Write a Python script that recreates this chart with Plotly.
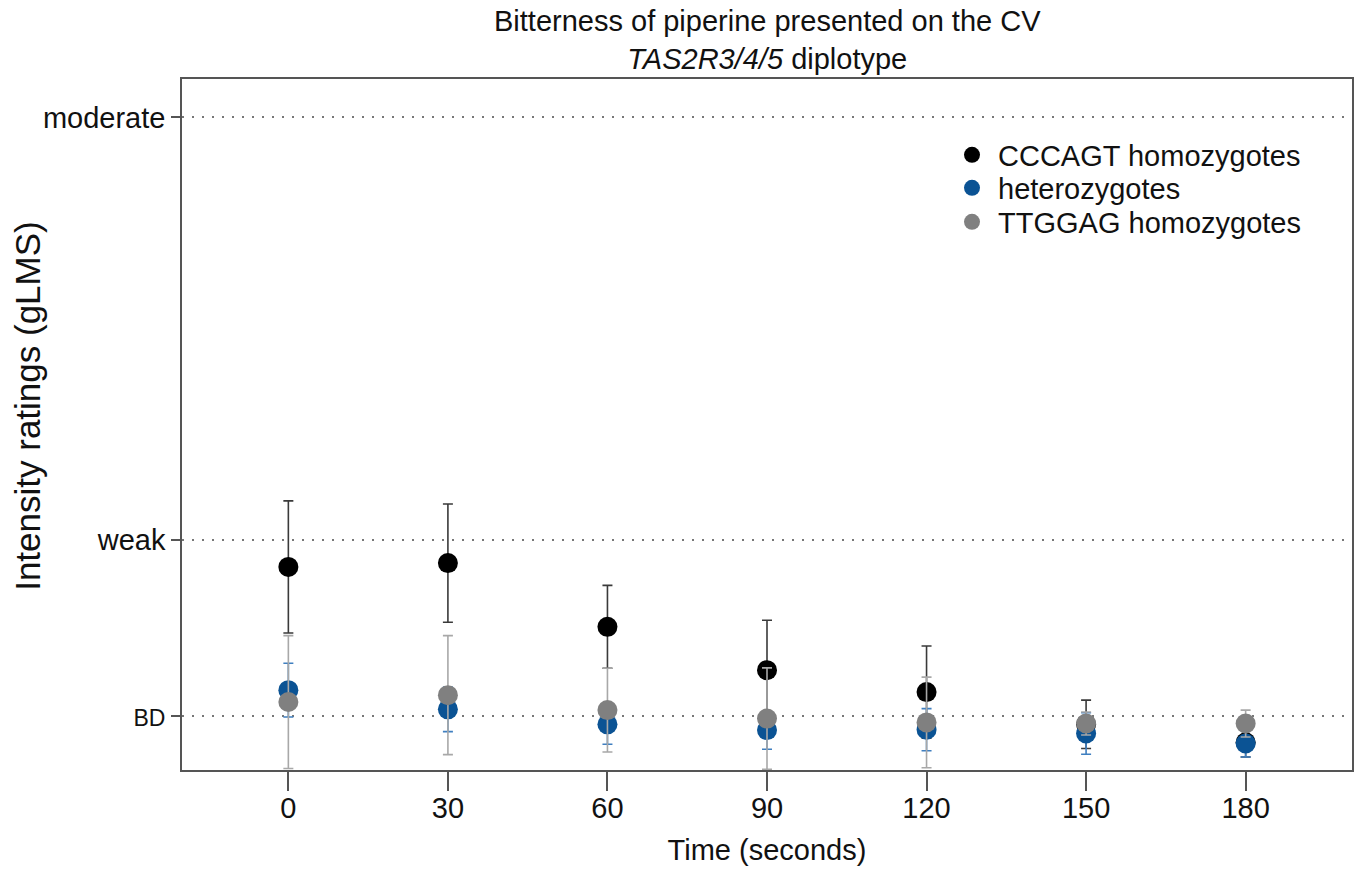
import plotly.graph_objects as go

time_s = [0, 30, 60, 90, 120, 150, 180]

cccagt_mean = [5.29, 5.39, 3.73, 2.60, 2.03, 1.19, 0.72]
cccagt_err = [1.72, 1.54, 1.08, 1.30, 1.20, 0.63, 0.38]

hetero_mean = [2.08, 1.58, 1.19, 1.04, 1.05, 0.95, 0.69]
hetero_err = [0.70, 0.58, 0.52, 0.50, 0.55, 0.54, 0.35]

ttggag_mean = [1.77, 1.95, 1.56, 1.34, 1.24, 1.21, 1.21]
ttggag_err = [1.73, 1.55, 1.09, 1.32, 1.18, 0.30, 0.35]

y_tickvals = [1.4, 6, 17]
y_ticktext = ['<span style="font-size:23px">BD</span>', "weak", "moderate"]
x_tickvals = [0, 30, 60, 90, 120, 150, 180]

FONT = "Liberation Sans, Arial, Helvetica, sans-serif"

series = [
    ("CCCAGT homozygotes", cccagt_mean, cccagt_err, "#000000", "#3a3a3a", "legend"),
    ("heterozygotes", hetero_mean, hetero_err, "#0b5394", "#3f7fc0", "legend2"),
    ("TTGGAG homozygotes", ttggag_mean, ttggag_err, "#808080", "#a8a8a8", "legend3"),
]

fig = go.Figure()
for name, m, e, c, ec, lg in series:
    fig.add_trace(go.Scatter(
        x=time_s, y=m, mode="markers", name=name, legend=lg,
        marker=dict(size=20, color=c, line=dict(width=0)),
        error_y=dict(type="data", array=e, visible=True, color=ec,
                     thickness=1.6, width=5),
    ))


def leg(ypix):
    return dict(
        x=0.653, y=(770 - ypix) / 691, xref="paper", yref="paper",
        xanchor="left", yanchor="middle",
        itemwidth=42,
        bgcolor="rgba(0,0,0,0)", borderwidth=0,
        font=dict(size=29, family=FONT, color="#111111"),
    )


fig.update_layout(
    width=1361, height=869,
    margin=dict(l=182, r=7, t=79, b=99),
    paper_bgcolor="white", plot_bgcolor="white",
    font=dict(family=FONT, color="#111111", size=29),
    showlegend=True,
    legend=leg(155),
    legend2=leg(188),
    legend3=leg(222),
    annotations=[
        dict(
            text="Bitterness of piperine presented on the CV<br><i>TAS2R3/4/5</i> diplotype",
            xref="paper", yref="paper", x=0.5, y=1,
            xanchor="center", yanchor="middle", yshift=39,
            showarrow=False, align="center",
            font=dict(size=29, family=FONT, color="#111111"),
        ),
        dict(
            text="Intensity ratings (gLMS)",
            xref="paper", yref="paper", x=0, y=0.527,
            xanchor="center", yanchor="middle", xshift=-154,
            textangle=-90, showarrow=False,
            font=dict(size=35, family=FONT, color="#111111"),
        ),
    ],
)

fig.update_xaxes(
    range=[-20, 200], tickvals=x_tickvals,
    showline=True, linecolor="#555555", linewidth=1.5, mirror=True,
    ticks="outside", ticklen=19, tickwidth=1.5, tickcolor="#555555",
    ticklabelstandoff=-8,
    showgrid=False, zeroline=False,
    tickfont=dict(size=29),
    title=dict(text="Time (seconds)", font=dict(size=29), standoff=17),
)
fig.update_yaxes(
    range=[0, 18], tickvals=y_tickvals, ticktext=y_ticktext,
    showline=True, linecolor="#555555", linewidth=1.5, mirror=True,
    ticks="outside", ticklen=9, tickwidth=1.5, tickcolor="#555555",
    showgrid=True, gridcolor="#777777", gridwidth=1.5, griddash="2px,8px",
    zeroline=False,
    tickfont=dict(size=29),
)

fig.write_html("out.html")
